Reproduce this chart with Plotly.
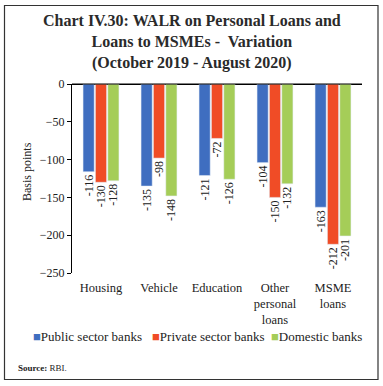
import plotly.graph_objects as go

categories = ["Housing", "Vehicle", "Education", "Other<br>personal<br>loans", "MSME<br>loans"]
public_sector = [-116, -135, -121, -104, -163]
private_sector = [-130, -98, -72, -150, -212]
domestic = [-128, -148, -126, -132, -201]
series_names = ["Public sector banks", "Private sector banks", "Domestic banks"]
colors = ["#3F6EC0", "#F04C26", "#A5CD58"]
legend_x = [32, 151, 270]

FONT = "Liberation Serif"

W, H = 383, 386
L, R, T, B = 72, 21, 84, 113
pw, ph = W - L - R, H - T - B

def px(x):
    return (x - L) / pw

def py(y):
    return (H - B - y) / ph

fig = go.Figure()
annotations = []
for name, vals, col, lx in zip(series_names, [public_sector, private_sector, domestic], colors, legend_x):
    fig.add_trace(go.Bar(
        x=categories, y=vals, name=name, marker_color=col, showlegend=False,
        text=[str(v) for v in vals], textposition="outside", textangle=-90,
        constraintext="none", cliponaxis=False,
        textfont=dict(family=FONT, size=12, color="#222"),
    ))
    annotations.append(dict(
        text=f'<span style="color:{col}">■</span>{name}', xref="paper", yref="paper",
        x=px(lx - 1), y=py(336), xanchor="left", yanchor="middle", showarrow=False,
        font=dict(family=FONT, size=13, color="#222")))

annotations += [
    dict(text="<b>Chart IV.30: WALR on Personal Loans and<br>Loans to MSMEs -  Variation<br>(October 2019 - August 2020)</b>",
         xref="paper", yref="paper", x=px(192), y=py(42), xanchor="center", yanchor="middle",
         showarrow=False, font=dict(family=FONT, size=16, color="#2a2a2a")),
    dict(text="Basis points", textangle=-90, xref="paper", yref="paper", x=px(27), y=py(172),
         xanchor="center", yanchor="middle", showarrow=False, font=dict(family=FONT, size=12)),
    dict(text="<b>Source:</b> RBI.", xref="paper", yref="paper", x=px(16), y=py(368),
         xanchor="left", yanchor="middle", showarrow=False, font=dict(family=FONT, size=9)),
]

fig.update_layout(
    width=W, height=H,
    margin=dict(l=L, r=R, t=T, b=B, autoexpand=False),
    paper_bgcolor="white", plot_bgcolor="white",
    font=dict(family=FONT, size=12, color="#222"),
    barmode="group", bargap=0.36, bargroupgap=0.1,
    showlegend=False,
    xaxis=dict(showline=False, ticks="", showgrid=False, tickfont=dict(size=12.5),
               automargin=False, ticklabelstandoff=5),
    yaxis=dict(range=[-250, 0], dtick=50, showgrid=False, showline=True, linecolor="black",
               linewidth=1, ticks="outside", ticklen=4, tickcolor="black",
               zeroline=True, zerolinecolor="black", zerolinewidth=1,
               tickfont=dict(size=12), automargin=False),
    shapes=[
        dict(type="rect", xref="paper", yref="paper", x0=px(4.5), x1=px(378), y0=py(379.5), y1=py(5.5),
             line=dict(color="#333", width=1.2), fillcolor="rgba(0,0,0,0)"),
        dict(type="line", xref="paper", yref="paper", x0=0, x1=1, y0=1, y1=1,
             line=dict(color="black", width=1)),
    ],
    annotations=annotations,
)

fig.write_html("out.html", config={"displayModeBar": False},
               post_script="document.body.style.margin='0';")
